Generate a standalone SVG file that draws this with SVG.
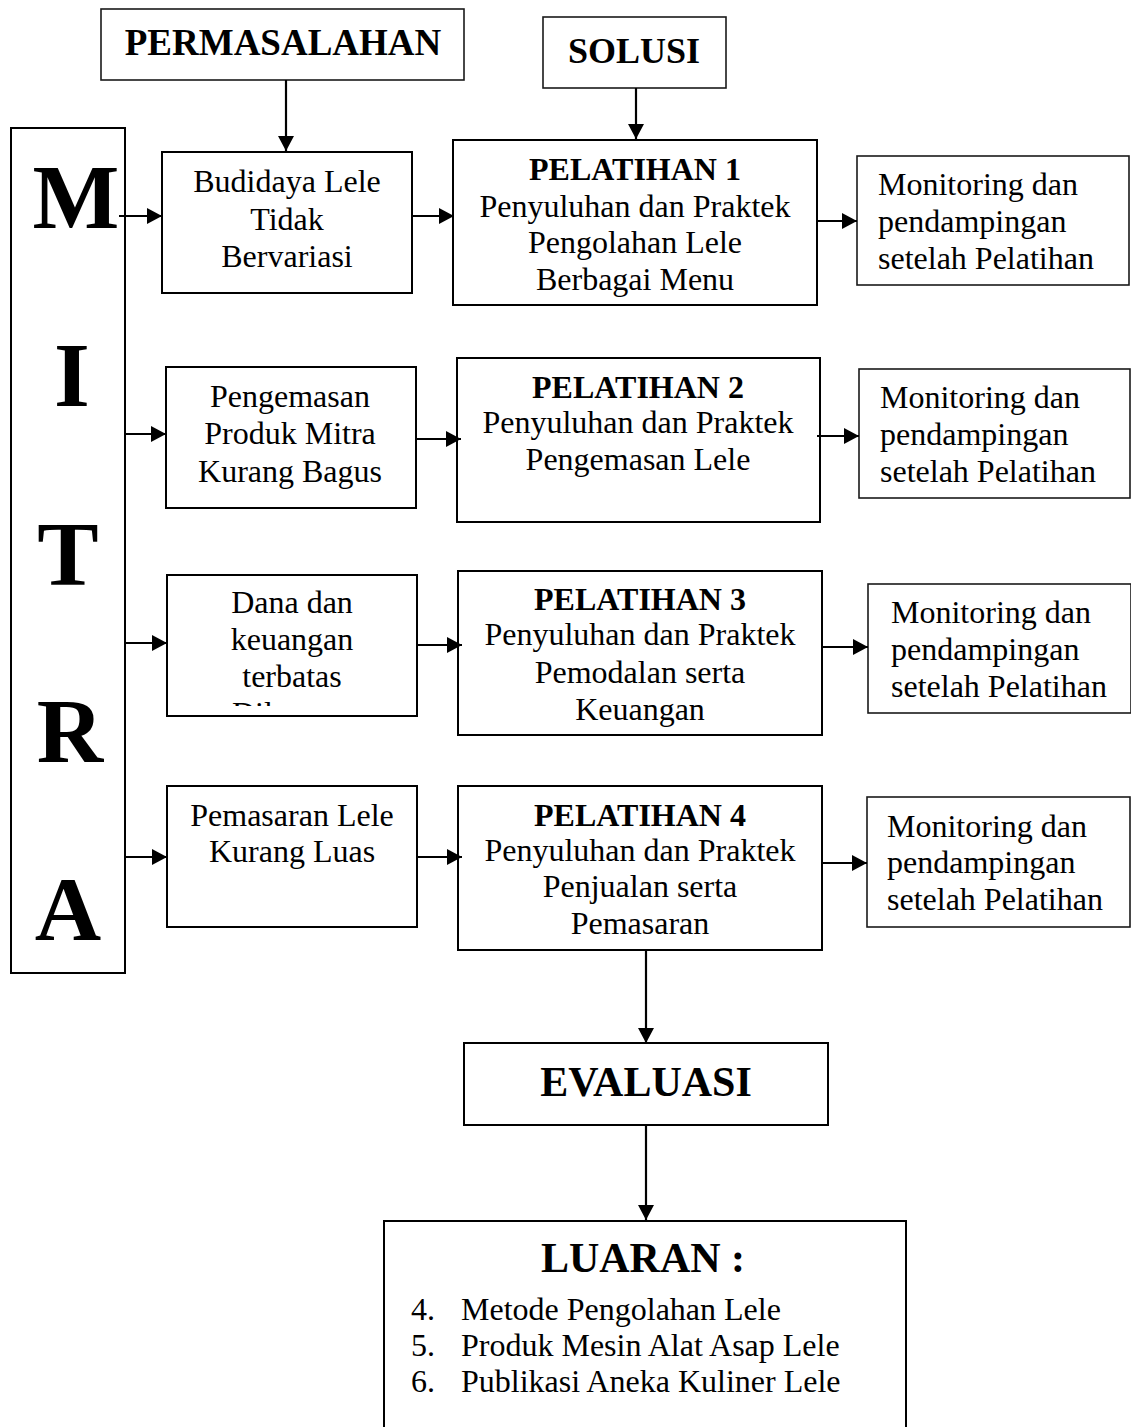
<svg xmlns="http://www.w3.org/2000/svg" width="1131" height="1427" viewBox="0 0 1131 1427">
<style>
.box{fill:#fff;stroke:#000;stroke-width:2}
.thin{fill:#fff;stroke:#1a1a1a;stroke-width:1.6}
.t{font-family:"Liberation Serif","Times New Roman",serif;font-size:32px;fill:#000}
.c{text-anchor:middle}
.b{font-weight:bold}
.big{font-size:36px;font-weight:bold}
.huge{font-size:92px;font-weight:bold;text-anchor:middle}
.h42{font-size:42px;font-weight:bold;text-anchor:middle}
.conn line{stroke:#000;stroke-width:2.2}
</style>
<defs>
<marker id="ah" markerUnits="userSpaceOnUse" markerWidth="15" markerHeight="16" refX="15" refY="8" orient="auto">
<path d="M0,0 L15,8 L0,16 z" fill="#000"/>
</marker>
<clipPath id="clip3"><rect x="167" y="575" width="250" height="131"/></clipPath>
<clipPath id="clipP1"><rect x="453" y="140" width="364" height="158"/></clipPath>
</defs>
<rect width="1131" height="1427" fill="#fff"/>

<g id="permasalahan">
<rect class="thin" x="101" y="9" width="363" height="71"/>
<text class="t big c" x="283" y="55" style="font-size:37px">PERMASALAHAN</text>
</g>
<g id="solusi">
<rect class="thin" x="543" y="17" width="183" height="71"/>
<text class="t big c" x="634" y="63">SOLUSI</text>
</g>

<g id="mitra">
<rect class="box" x="11" y="128" width="114" height="845"/>
<text class="t huge" x="76" y="228">M</text>
<text class="t huge" x="72" y="406">I</text>
<text class="t huge" x="68" y="585">T</text>
<text class="t huge" x="70" y="762">R</text>
<text class="t huge" x="68" y="940">A</text>
</g>

<g id="masalah1">
<rect class="box" x="162" y="152" width="250" height="141"/>
<text class="t c" x="287" y="192">Budidaya Lele</text>
<text class="t c" x="287" y="230">Tidak</text>
<text class="t c" x="287" y="267">Bervariasi</text>
</g>
<g id="pelatihan1">
<rect class="box" x="453" y="140" width="364" height="165"/>
<g clip-path="url(#clipP1)">
<text class="t c b" x="635" y="180">PELATIHAN 1</text>
<text class="t c" x="635" y="217">Penyuluhan dan Praktek</text>
<text class="t c" x="635" y="253">Pengolahan Lele</text>
<text class="t c" x="635" y="290">Berbagai Menu</text>
</g>
</g>
<g id="monitoring1">
<rect class="thin" x="857" y="156" width="272" height="129"/>
<text class="t" x="878" y="195">Monitoring dan</text>
<text class="t" x="878" y="232">pendampingan</text>
<text class="t" x="878" y="269">setelah Pelatihan</text>
</g>

<g id="masalah2">
<rect class="box" x="166" y="367" width="250" height="141"/>
<text class="t c" x="290" y="407">Pengemasan</text>
<text class="t c" x="290" y="444">Produk Mitra</text>
<text class="t c" x="290" y="482">Kurang Bagus</text>
</g>
<g id="pelatihan2">
<rect class="box" x="457" y="358" width="363" height="164"/>
<text class="t c b" x="638" y="398">PELATIHAN 2</text>
<text class="t c" x="638" y="433">Penyuluhan dan Praktek</text>
<text class="t c" x="638" y="470">Pengemasan Lele</text>
</g>
<g id="monitoring2">
<rect class="thin" x="859" y="369" width="271" height="129"/>
<text class="t" x="880" y="408">Monitoring dan</text>
<text class="t" x="880" y="445">pendampingan</text>
<text class="t" x="880" y="482">setelah Pelatihan</text>
</g>

<g id="masalah3">
<rect class="box" x="167" y="575" width="250" height="141"/>
<text class="t c" x="292" y="613">Dana dan</text>
<text class="t c" x="292" y="650">keuangan</text>
<text class="t c" x="292" y="687">terbatas</text>
<text class="t" x="232" y="724" clip-path="url(#clip3)">Dil</text>
</g>
<g id="pelatihan3">
<rect class="box" x="458" y="571" width="364" height="164"/>
<text class="t c b" x="640" y="610">PELATIHAN 3</text>
<text class="t c" x="640" y="645">Penyuluhan dan Praktek</text>
<text class="t c" x="640" y="683">Pemodalan serta</text>
<text class="t c" x="640" y="720">Keuangan</text>
</g>
<g id="monitoring3">
<rect class="thin" x="868" y="584" width="263" height="129"/>
<text class="t" x="891" y="623">Monitoring dan</text>
<text class="t" x="891" y="660">pendampingan</text>
<text class="t" x="891" y="697">setelah Pelatihan</text>
</g>

<g id="masalah4">
<rect class="box" x="167" y="786" width="250" height="141"/>
<text class="t c" x="292" y="826">Pemasaran Lele</text>
<text class="t c" x="292" y="862">Kurang Luas</text>
</g>
<g id="pelatihan4">
<rect class="box" x="458" y="786" width="364" height="164"/>
<text class="t c b" x="640" y="826">PELATIHAN 4</text>
<text class="t c" x="640" y="861">Penyuluhan dan Praktek</text>
<text class="t c" x="640" y="897">Penjualan serta</text>
<text class="t c" x="640" y="934">Pemasaran</text>
</g>
<g id="monitoring4">
<rect class="thin" x="867" y="797" width="263" height="130"/>
<text class="t" x="887" y="837">Monitoring dan</text>
<text class="t" x="887" y="873">pendampingan</text>
<text class="t" x="887" y="910">setelah Pelatihan</text>
</g>

<g id="evaluasi">
<rect class="box" x="464" y="1043" width="364" height="82"/>
<text class="t h42" x="646" y="1096">EVALUASI</text>
</g>

<g id="luaran">
<rect class="box" x="384" y="1221" width="522" height="215"/>
<text class="t h42" x="643" y="1272">LUARAN :</text>
<text class="t" x="411" y="1320">4.</text>
<text class="t" x="461" y="1320">Metode Pengolahan Lele</text>
<text class="t" x="411" y="1356">5.</text>
<text class="t" x="461" y="1356">Produk Mesin Alat Asap Lele</text>
<text class="t" x="411" y="1392">6.</text>
<text class="t" x="461" y="1392">Publikasi Aneka Kuliner Lele</text>
</g>

<g class="conn" id="connectors">
<line x1="286" y1="80" x2="286" y2="151" marker-end="url(#ah)"/>
<line x1="636" y1="88" x2="636" y2="139" marker-end="url(#ah)"/>
<line x1="119" y1="216" x2="162" y2="216" marker-end="url(#ah)"/>
<line x1="412" y1="216" x2="454" y2="216" marker-end="url(#ah)"/>
<line x1="817" y1="221" x2="857" y2="221" marker-end="url(#ah)"/>
<line x1="125" y1="434" x2="166" y2="434" marker-end="url(#ah)"/>
<line x1="417" y1="439" x2="461" y2="439" marker-end="url(#ah)"/>
<line x1="817" y1="436" x2="859" y2="436" marker-end="url(#ah)"/>
<line x1="125" y1="643" x2="167" y2="643" marker-end="url(#ah)"/>
<line x1="417" y1="645" x2="462" y2="645" marker-end="url(#ah)"/>
<line x1="822" y1="647" x2="868" y2="647" marker-end="url(#ah)"/>
<line x1="125" y1="857" x2="167" y2="857" marker-end="url(#ah)"/>
<line x1="417" y1="857" x2="462" y2="857" marker-end="url(#ah)"/>
<line x1="822" y1="863" x2="867" y2="863" marker-end="url(#ah)"/>
<line x1="646" y1="950" x2="646" y2="1043" marker-end="url(#ah)"/>
<line x1="646" y1="1125" x2="646" y2="1220" marker-end="url(#ah)"/>
</g>
</svg>
